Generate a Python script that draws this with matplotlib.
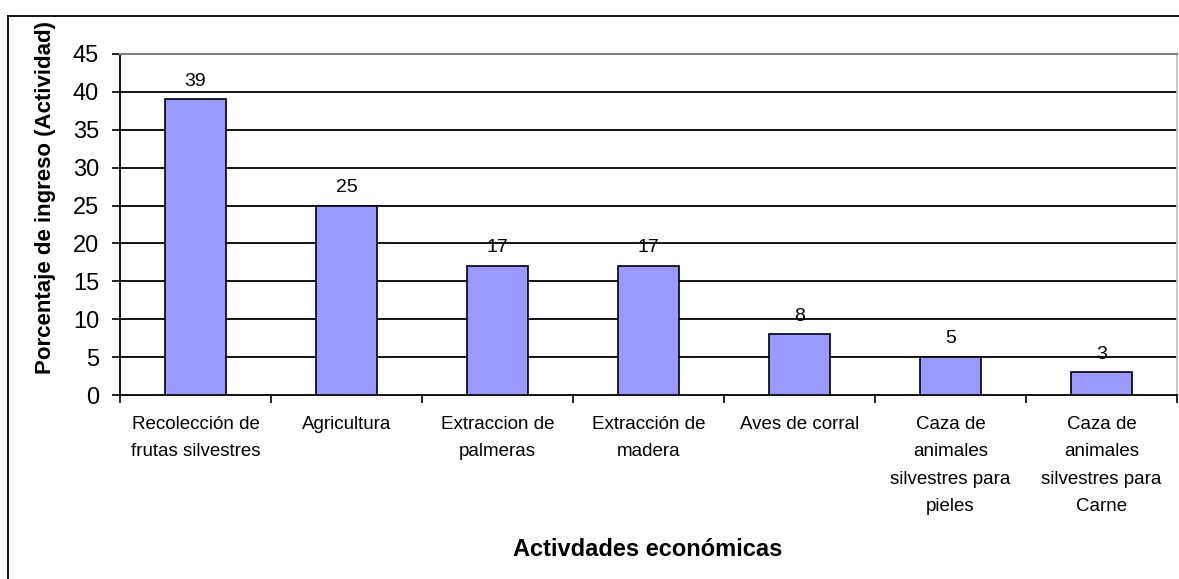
import matplotlib
matplotlib.use("Agg")
import matplotlib.pyplot as plt
from matplotlib.lines import Line2D
import numpy as np

categories = ["Recolección de\nfrutas silvestres", "Agricultura", "Extraccion de\npalmeras",
              "Extracción de\nmadera", "Aves de corral",
              "Caza de\nanimales\nsilvestres para\npieles",
              "Caza de\nanimales\nsilvestres para\nCarne"]
values = [39, 25, 17, 17, 8, 5, 3]
yticks = [0, 5, 10, 15, 20, 25, 30, 35, 40, 45]

plt.rcParams['font.family'] = ['Liberation Sans', 'DejaVu Sans']

W, H = 1179, 579
fig = plt.figure(figsize=(W / 100, H / 100), dpi=100)
ax = fig.add_axes([120 / W, 1 - 395 / H, (1177 - 120) / W, (395 - 54) / H])

x = np.arange(len(categories))
ax.bar(x, values, width=0.41, color="#9999FF", edgecolor="black", linewidth=1.2, zorder=3)
for xi, v in zip(x, values):
    ax.annotate(str(v), (xi, v), xytext=(0, 7), textcoords="offset points",
                ha="center", va="bottom", fontsize=14)

ax.set_xlim(-0.5, len(categories) - 0.5)
ax.set_ylim(0, 45)
ax.set_yticks(yticks)
ax.set_yticklabels([str(t) for t in yticks], fontsize=17)
for t in yticks[1:-1]:
    ax.axhline(t, color="black", linewidth=1.3, zorder=1)

ax.set_xticks(x)
ax.set_xticklabels(categories, fontsize=13.5, linespacing=1.8, va="top")
ax.set_xticks(np.arange(-0.5, len(categories)), minor=True)
ax.tick_params(axis="x", which="major", length=0, pad=15)
ax.tick_params(axis="x", which="minor", length=6, width=1.2, direction="out")
ax.tick_params(axis="y", length=6, width=1.2, direction="out", pad=9)

ax.spines["left"].set_linewidth(1.3)
ax.spines["bottom"].set_linewidth(1.3)
ax.spines["top"].set_color("#808080")
ax.spines["top"].set_linewidth(1.5)
ax.spines["right"].set_color("#c0c0c0")
ax.spines["right"].set_linewidth(1.2)

fig.text(46 / W, 1 - 197 / H, "Porcentaje de ingreso (Actividad)", fontsize=16,
         fontweight="bold", rotation=90, ha="center", va="center")
fig.text(648 / W, 1 - 550 / H, "Activdades económicas", fontsize=17, fontweight="bold",
         ha="center", va="center")

# outer chart border
fig.add_artist(Line2D([8 / W, 8 / W], [0, 1 - 16 / H], color="black", linewidth=1.3,
                      transform=fig.transFigure))
fig.add_artist(Line2D([8 / W, 1], [1 - 16 / H, 1 - 16 / H], color="black", linewidth=1.3,
                      transform=fig.transFigure))

fig.savefig("out.png", dpi=100)
